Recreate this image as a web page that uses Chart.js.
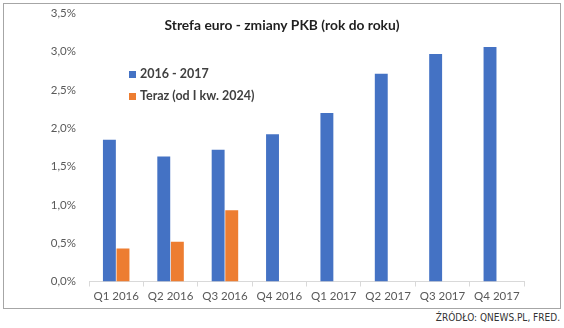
<!DOCTYPE html>
<html lang="pl">
<head>
  <meta charset="UTF-8">
  <title>Strefa euro - zmiany PKB</title>
  <script src="https://cdn.jsdelivr.net/npm/chart.js"></script>
  <style>
    html, body {
      margin: 0;
      padding: 0;
      width: 564px;
      height: 328px;
      background: #fff;
      overflow: hidden;
    }
    #frame {
      position: absolute;
      left: 3px;
      top: 3px;
      width: 556px;
      height: 304px;
      border: 1px solid #a6a6a6;
    }
    #source {
      position: absolute;
      right: 4px;
      top: 312px;
      font-family: 'Liberation Sans Narrow', 'DejaVu Sans Condensed', sans-serif;
      font-size: 10px;
      color: #333;
    }
  </style>
</head>
<body>
  <div id="frame"><canvas id="myChart" width="556" height="304"></canvas></div>
  <div id="source">ŹRÓDŁO: QNEWS.PL, FRED.</div>

  <script>
    // dane
    const chartTitle = 'Strefa euro - zmiany PKB (rok do roku)';
    const quarters = ['Q1 2016', 'Q2 2016', 'Q3 2016', 'Q4 2016', 'Q1 2017', 'Q2 2017', 'Q3 2017', 'Q4 2017'];
    const gdp2016_2017 = [1.85, 1.63, 1.72, 1.92, 2.20, 2.71, 2.97, 3.06];
    const gdpNow = [0.43, 0.52, 0.93, null, null, null, null, null];
    const seriesNames = ['2016 - 2017', 'Teraz (od I kw. 2024)'];

    // tytul i legenda rysowane w srodku wykresu
    const titleLegend = {
      id: 'titleLegend',
      afterDraw(chart) {
        const c = chart.ctx;
        c.save();
        c.textBaseline = 'middle';
        c.fillStyle = '#1f1f1f';
        c.font = 'bold 13.8px Lato';
        c.textAlign = 'center';
        c.fillText(chartTitle, 278, 22);

        c.textAlign = 'left';
        c.font = 'bold 12.5px Lato';
        chart.data.datasets.forEach((ds, i) => {
          const y = 70 + i * 22;
          c.fillStyle = ds.backgroundColor;
          c.fillRect(125, y - 3, 7, 7);
          c.fillStyle = '#404040';
          c.fillText(ds.label, 136, y);
        });
        c.restore();
      }
    };

    const ctx = document.getElementById('myChart').getContext('2d');
    const myChart = new Chart(ctx, {
      type: 'bar',
      data: {
        labels: quarters,
        datasets: [{
          label: seriesNames[0],
          data: gdp2016_2017,
          backgroundColor: '#4472C4',
          categoryPercentage: 0.5,
          barPercentage: 0.95
        }, {
          label: seriesNames[1],
          data: gdpNow,
          backgroundColor: '#ED7D31',
          categoryPercentage: 0.5,
          barPercentage: 0.95
        }]
      },
      options: {
        responsive: false,
        animation: false,
        layout: { padding: { left: 0, right: 36, top: 9.3, bottom: 0 } },
        plugins: {
          legend: { display: false },
          title: { display: false },
          tooltip: { enabled: false }
        },
        scales: {
          y: {
            min: 0,
            max: 3.5,
            grid: { display: false, drawTicks: false },
            border: { display: false },
            ticks: {
              stepSize: 0.5,
              padding: 13,
              color: '#595959',
              font: { family: 'Lato', size: 11.5 },
              callback: v => v.toFixed(1).replace('.', ',') + '%'
            },
            // stala szerokosc osi, bez dodatkowego odstepu u gory
            afterFit: s => { s.width = 85; s.paddingTop = 0; s.paddingBottom = 0; }
          },
          x: {
            grid: { drawOnChartArea: false, drawTicks: true, tickLength: 5, color: '#d9d9d9', offset: true },
            border: { color: '#d9d9d9' },
            ticks: {
              padding: 3,
              color: '#595959',
              font: { family: 'Lato', size: 11.5 },
              maxRotation: 0
            },
            afterFit: s => { s.height = 26.5; }
          }
        }
      },
      plugins: [titleLegend]
    });
  </script>
</body>
</html>
